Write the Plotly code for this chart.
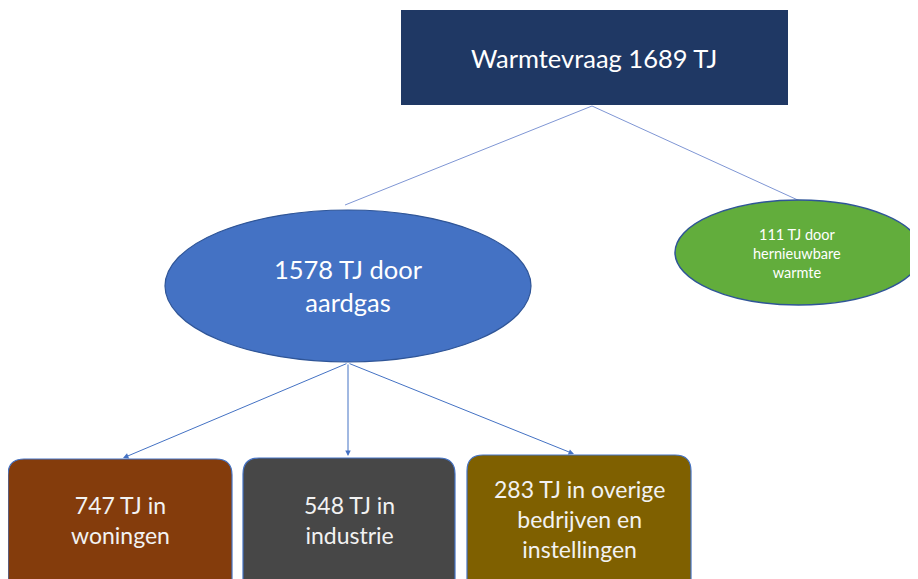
import plotly.graph_objects as go

# Data
total_label = "Warmtevraag"
total_value = 1689
source_labels = ["door<br>aardgas", "door<br>hernieuwbare<br>warmte"]
source_values = [1578, 111]
use_labels = ["in<br>woningen", "in<br>industrie", "in overige<br>bedrijven en<br>instellingen"]
use_values = [747, 548, 283]
unit = "TJ"

W, H = 918, 579
OFF = 8  # page body margin compensation
fig = go.Figure()

shapes = []
annotations = []

def rrect(x0, y0, x1, y1, r, fill):
    p = (f"M {x0+r},{y0} L {x1-r},{y0} Q {x1},{y0} {x1},{y0+r} "
         f"L {x1},{y1-r} Q {x1},{y1} {x1-r},{y1} L {x0+r},{y1} Q {x0},{y1} {x0},{y1-r} "
         f"L {x0},{y0+r} Q {x0},{y0} {x0+r},{y0} Z")
    return dict(type="path", path=p, fillcolor=fill, line=dict(color="#4472c4", width=1.2), layer="above")

# connector lines top -> sources
line_col = "#7f96d4"
shapes.append(dict(type="line", x0=592, y0=106, x1=345, y1=205, line=dict(color=line_col, width=1)))
shapes.append(dict(type="line", x0=592, y0=106, x1=800, y1=201, line=dict(color=line_col, width=1)))

# top rectangle
shapes.append(dict(type="rect", x0=401, y0=10, x1=788, y1=105, fillcolor="#1f3864",
                   line=dict(color="#1f3864", width=0), layer="above"))
annotations.append(dict(x=594, y=58, text=f"{total_label} {total_value} {unit}", showarrow=False,
                        font=dict(color="white", size=25.5, family="Lato")))

# blue ellipse
shapes.append(dict(type="circle", x0=165, y0=210, x1=531, y1=362, fillcolor="#4472c4",
                   line=dict(color="#2f5597", width=1.2), layer="above"))
annotations.append(dict(x=348, y=285, text=f"{source_values[0]} {unit} {source_labels[0]}", showarrow=False,
                        font=dict(color="white", size=25.5, family="Lato")))

# green ellipse
shapes.append(dict(type="circle", x0=675, y0=200, x1=922, y1=305, fillcolor="#62ad3c",
                   line=dict(color="#2f5597", width=1.5), layer="above"))
annotations.append(dict(x=797, y=253, text=f"{source_values[1]} {unit} {source_labels[1]}", showarrow=False,
                        font=dict(color="white", size=14.5, family="Lato")))

# bottom boxes
box_x = [(8, 232), (243, 455), (467, 691)]
box_y0 = [459, 458, 455]
box_fill = ["#843c0c", "#474747", "#7f6000"]
arrow_tip = [(123, 458), (348, 456), (574, 454)]
for i, v in enumerate(use_values):
    x0, x1 = box_x[i]
    shapes.append(rrect(x0, box_y0[i], x1, 600, 16, box_fill[i]))
    annotations.append(dict(x=(x0 + x1) / 2, y=520 if i < 2 else 519,
                            text=f"{v} {unit} {use_labels[i]}", showarrow=False,
                            font=dict(color="#f2f2f2", size=23, family="Lato")))
    tx, ty = arrow_tip[i]
    annotations.append(dict(x=tx, y=ty, ax=348, ay=363, xref="x", yref="y", axref="x", ayref="y",
                            text="", showarrow=True, arrowhead=2, arrowsize=1.1, arrowwidth=1,
                            arrowcolor="#4472c4"))

fig.update_layout(
    width=W, height=H, margin=dict(l=0, r=0, t=0, b=0),
    paper_bgcolor="white", plot_bgcolor="white",
    xaxis=dict(range=[OFF, W + OFF], visible=False, fixedrange=True),
    yaxis=dict(range=[H + OFF, OFF], visible=False, fixedrange=True),
    shapes=shapes, annotations=annotations, showlegend=False,
)
fig.write_html("out.html")
